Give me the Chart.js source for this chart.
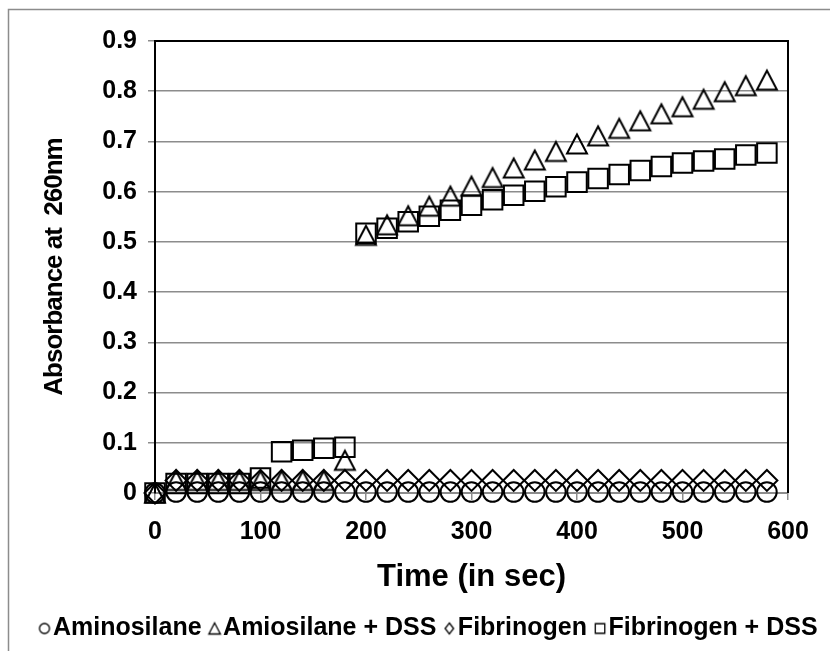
<!DOCTYPE html>
<html>
<head>
<meta charset="utf-8">
<script src="https://cdn.jsdelivr.net/npm/chart.js@4"></script>
<style>
html,body{margin:0;padding:0;background:#fff;}
#wrap{width:830px;height:651px;position:relative;}
</style>
</head>
<body>
<div id="wrap"><canvas id="c" width="830" height="651"></canvas></div>
<script>
// ---- data ----
const times = [0,20,40,60,80,100,120,140,160,180,200,220,240,260,280,300,320,340,360,380,400,420,440,460,480,500,520,540,560,580];
const aminosilane = [0,0.002,0.002,0.002,0.002,0.002,0.002,0.002,0.002,0.002,0.002,0.002,0.002,0.002,0.002,0.002,0.002,0.002,0.002,0.002,0.002,0.002,0.002,0.002,0.002,0.002,0.002,0.002,0.002,0.002];
const amiosilaneDSS = [0,0.025,0.025,0.025,0.025,0.025,0.025,0.025,0.025,0.065,0.513,0.534,0.552,0.571,0.591,0.611,0.628,0.647,0.663,0.680,0.695,0.711,0.726,0.741,0.755,0.769,0.784,0.799,0.811,0.822];
const fibrinogen = [0,0.025,0.025,0.025,0.025,0.025,0.025,0.025,0.025,0.025,0.025,0.025,0.025,0.025,0.025,0.025,0.025,0.025,0.025,0.025,0.025,0.025,0.025,0.025,0.025,0.025,0.025,0.025,0.025,0.025];
const fibrinogenDSS = [0,0.019,0.019,0.019,0.019,0.030,0.082,0.085,0.089,0.091,0.517,0.527,0.540,0.551,0.563,0.573,0.584,0.593,0.601,0.610,0.619,0.626,0.634,0.642,0.650,0.657,0.661,0.665,0.673,0.677];
const seriesNames = ['Aminosilane','Amiosilane + DSS','Fibrinogen','Fibrinogen + DSS'];
const xTickValues = [0,100,200,300,400,500,600];
const xTickLabels = ['0','100','200','300','400','500','600'];
const yTickValues = [0,0.1,0.2,0.3,0.4,0.5,0.6,0.7,0.8,0.9];
const yTickLabels = ['0','0.1','0.2','0.3','0.4','0.5','0.6','0.7','0.8','0.9'];
const xTitle = 'Time (in sec)';
const yTitle = 'Absorbance at  260nm';

// ---- style ----
const FONT = 'Liberation Sans, Arial, Helvetica, sans-serif';
const GRID = '#8c8c8c';
const PAD_L = 24;
const PLOT_LEFT = 155;
const RIGHT_GAP = 42;
const X_H = 118;
const LEGEND_H = 40;

function symbolCanvas(shape, w, h, size, lw, dx) {
  const c = document.createElement('canvas');
  c.width = w; c.height = h;
  const g = c.getContext('2d');
  g.strokeStyle = '#000'; g.lineWidth = lw; g.lineJoin = 'miter';
  const cx = w / 2 + dx, cy = h / 2, s = size / 2;
  g.beginPath();
  if (shape === 'circle') {
    g.arc(cx, cy, s, 0, Math.PI * 2);
  } else if (shape === 'triangle') {
    g.moveTo(cx, cy - s);
    g.lineTo(cx + s * 1.05, cy + s);
    g.lineTo(cx - s * 1.05, cy + s);
    g.closePath();
  } else if (shape === 'diamond') {
    g.moveTo(cx, cy - s * 1.1);
    g.lineTo(cx + s * 0.85, cy);
    g.lineTo(cx, cy + s * 1.1);
    g.lineTo(cx - s * 0.85, cy);
    g.closePath();
  } else {
    g.rect(cx - s, cy - s, 2 * s, 2 * s);
  }
  g.stroke();
  return c;
}

const plotTriangle = symbolCanvas('triangle', 26, 26, 19, 2, 0);
const legendSymbols = [
  symbolCanvas('circle', 28, 18, 10, 1.3, 6),
  symbolCanvas('triangle', 28, 18, 11, 1.3, 6),
  symbolCanvas('diamond', 28, 18, 10, 1.3, 6),
  symbolCanvas('square', 28, 18, 9.5, 1.3, 6)
];

function pts(arr) { return times.map((t, i) => ({x: t, y: arr[i]})); }

const framePlugin = {
  id: 'frame',
  afterInit(chart) {
    const lg = chart.legend;
    if (lg) {
      const f = lg.fit;
      lg.fit = function () { f.call(this); this.height = LEGEND_H; };
    }
  },
  beforeDraw(chart) {
    const ctx = chart.ctx;
    const ys = chart.scales.y;
    if (ys && !ys._lsWrapped) {
      const orig = ys.drawTitle;
      ys.drawTitle = function () {
        const c = this.ctx;
        c.save();
        if ('letterSpacing' in c) c.letterSpacing = '-1px';
        orig.apply(this, arguments);
        c.restore();
      };
      ys._lsWrapped = true;
    }
    ctx.save();
    ctx.fillStyle = '#fff';
    ctx.fillRect(0, 0, chart.width, chart.height);
    ctx.strokeStyle = GRID; ctx.lineWidth = 1.5;
    ctx.beginPath();
    ctx.moveTo(8.5, chart.height);
    ctx.lineTo(8.5, 9.5);
    ctx.lineTo(chart.width, 9.5);
    ctx.stroke();
    ctx.restore();
  },
  beforeDatasetsDraw(chart) {
    const {left, right, top, bottom} = chart.chartArea;
    const ctx = chart.ctx;
    ctx.save();
    ctx.strokeStyle = '#000'; ctx.lineWidth = 2;
    ctx.beginPath();
    ctx.moveTo(left, top);
    ctx.lineTo(right, top);
    ctx.lineTo(right, bottom);
    ctx.stroke();
    ctx.restore();
  }
};

Chart.defaults.font.family = FONT;
Chart.defaults.font.weight = 'bold';
Chart.defaults.color = '#000';

const common = {borderColor: '#000', backgroundColor: 'rgba(0,0,0,0)', borderWidth: 2, showLine: false, clip: false};

new Chart(document.getElementById('c'), {
  type: 'scatter',
  data: {
    datasets: [
      Object.assign({label: seriesNames[0], data: pts(aminosilane), pointStyle: 'circle', pointRadius: 9.8}, common),
      Object.assign({label: seriesNames[1], data: pts(amiosilaneDSS), pointStyle: plotTriangle, pointRadius: 12}, common),
      Object.assign({label: seriesNames[2], data: pts(fibrinogen), pointStyle: 'rectRot', pointRadius: 10.5}, common),
      Object.assign({label: seriesNames[3], data: pts(fibrinogenDSS), pointStyle: 'rect', pointRadius: 13.8}, common)
    ]
  },
  options: {
    responsive: false,
    animation: false,
    devicePixelRatio: 1,
    layout: {padding: {left: PAD_L, right: 0, top: 41, bottom: 0}},
    plugins: {
      tooltip: {enabled: false},
      legend: {
        position: 'bottom',
        labels: {
          usePointStyle: true,
          boxWidth: 4,
          boxHeight: 4,
          padding: 5,
          color: '#000',
          font: {size: 25, weight: 'bold', family: FONT},
          generateLabels(chart) {
            const items = Chart.defaults.plugins.legend.labels.generateLabels(chart);
            items.forEach((it, i) => { it.pointStyle = legendSymbols[i]; it.fontColor = '#000'; });
            return items;
          }
        }
      }
    },
    scales: {
      x: {
        type: 'linear', position: 'bottom', min: 0, max: 600,
        afterBuildTicks: s => { s.ticks = xTickValues.map(v => ({value: v})); },
        ticks: {callback: (v, i) => xTickLabels[i], font: {size: 25, weight: 'bold'}, color: '#000', padding: 17, maxRotation: 0, autoSkip: false},
        grid: {drawOnChartArea: false, drawTicks: true, tickLength: 7, color: GRID, tickColor: GRID, lineWidth: 1.5},
        border: {color: GRID, width: 2},
        title: {display: true, text: xTitle, font: {size: 31, weight: 'bold'}, color: '#000', padding: {top: 0, bottom: 15}},
        afterFit: s => { s.height = X_H; }
      },
      y: {
        type: 'linear', position: 'left', min: 0, max: 0.9,
        afterBuildTicks: s => { s.ticks = yTickValues.map(v => ({value: v})); },
        ticks: {callback: (v, i) => yTickLabels[i], font: {size: 25, weight: 'bold'}, color: '#000', padding: 11, autoSkip: false},
        grid: {color: GRID, lineWidth: 1.5, drawTicks: true, tickLength: 7, tickColor: GRID},
        border: {color: '#000', width: 2},
        title: {display: true, text: yTitle, font: {size: 26, weight: 'bold'}, color: '#000', padding: {top: 15, bottom: 0}},
        afterFit: s => { s.width = PLOT_LEFT - PAD_L; }
      },
      yR: {
        type: 'linear', position: 'right', display: true, min: 0, max: 1,
        ticks: {display: false},
        grid: {display: false, drawTicks: false},
        border: {display: false},
        afterFit: s => { s.width = RIGHT_GAP; }
      }
    }
  },
  plugins: [framePlugin]
});
</script>
</body>
</html>
